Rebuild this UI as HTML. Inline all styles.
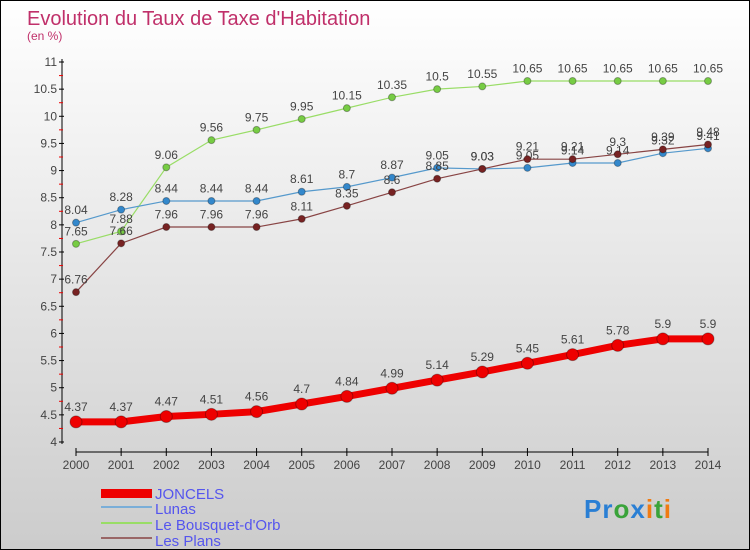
<!DOCTYPE html>
<html><head><meta charset="utf-8"><style>
body{margin:0}
#c{width:750px;height:550px;position:relative;box-sizing:border-box;border:1px solid #000;background:linear-gradient(#fff,#ccc);font-family:"Liberation Sans",sans-serif;overflow:hidden}
svg text{font-family:"Liberation Sans",sans-serif}
</style></head><body>
<div id="c">
<svg id="s" width="750" height="550">
<text x="26" y="24" font-size="20" fill="#c0306a">Evolution du Taux de Taxe d'Habitation</text>
<text x="26" y="39" font-size="12" fill="#c0306a">(en %)</text>
<g id="axes"></g><g id="series"></g>
<g>
<rect x="100" y="488" width="51" height="9" fill="#e00"/>
<text x="154" y="498" font-size="15" fill="#5555ee">JONCELS</text>
<rect x="100" y="505" width="51" height="2" fill="#7aaed8"/>
<text x="154" y="513" font-size="15" fill="#5555ee">Lunas</text>
<rect x="100" y="521" width="51" height="2" fill="#99dd66"/>
<text x="154" y="529" font-size="15" fill="#5555ee">Le Bousquet-d'Orb</text>
<rect x="100" y="536" width="51" height="2" fill="#996666"/>
<text x="154" y="545" font-size="15" fill="#5555ee">Les Plans</text>
</g>
<text x="583" y="517" font-size="26" font-weight="bold" letter-spacing="1"><tspan fill="#2a7fd4">Pr</tspan><tspan fill="#3aa33a">o</tspan><tspan fill="#2a7fd4">x</tspan><tspan fill="#f07b12">i</tspan><tspan fill="#3aa33a">t</tspan><tspan fill="#f07b12">i</tspan></text>
</svg></div>
<script>
const years=[2000,2001,2002,2003,2004,2005,2006,2007,2008,2009,2010,2011,2012,2013,2014];
const yTicks=[4,4.5,5,5.5,6,6.5,7,7.5,8,8.5,9,9.5,10,10.5,11];
const joncels=[4.37,4.37,4.47,4.51,4.56,4.7,4.84,4.99,5.14,5.29,5.45,5.61,5.78,5.9,5.9];
const lunas=[8.04,8.28,8.44,8.44,8.44,8.61,8.7,8.87,9.05,9.03,9.05,9.14,9.14,9.32,9.41];
const bousquet=[7.65,7.88,9.06,9.56,9.75,9.95,10.15,10.35,10.5,10.55,10.65,10.65,10.65,10.65,10.65];
const lesPlans=[6.76,7.66,7.96,7.96,7.96,8.11,8.35,8.6,8.85,9.03,9.21,9.21,9.3,9.39,9.48];
const NS="http://www.w3.org/2000/svg";
const X=i=>75+i*(707-75)/(years.length-1);
const Y=v=>441-(v-4)*(441-61)/7;
function mk(t,a,p){const e=document.createElementNS(NS,t);for(const k in a)e.setAttribute(k,a[k]);p.appendChild(e);return e;}
const ax=document.getElementById('axes');
let e=mk('line',{x1:61,y1:58,x2:61,y2:443,stroke:'#000'},ax);


e=mk('line',{x1:75,y1:451,x2:707,y2:451,stroke:'#000'},ax);


yTicks.forEach((v,i)=>{mk('line',{x1:58,x2:63,y1:Y(v),y2:Y(v),stroke:'#000'},ax);
if(i<yTicks.length-1)mk('line',{x1:58,x2:62,y1:Y(v+0.25),y2:Y(v+0.25),stroke:'#e00'},ax);
const t=mk('text',{x:56,y:Y(v)+4,'font-size':12,fill:'#444','text-anchor':'end'},ax);t.textContent=v;

});
years.forEach((y,i)=>{mk('line',{x1:X(i),x2:X(i),y1:447,y2:455,stroke:'#000'},ax);
const t=mk('text',{x:X(i),y:468,'font-size':12,fill:'#444','text-anchor':'middle'},ax);t.textContent=y;

});
const sg=document.getElementById('series');
function draw(vals,name,lc,pc,w,r){const g=mk('g',{},sg);


mk('polyline',{points:vals.map((v,i)=>X(i)+','+Y(v)).join(' '),fill:'none',stroke:lc,'stroke-width':w},g);
vals.forEach((v,i)=>{const c=mk('circle',{cx:X(i),cy:Y(v),r:r,fill:pc,stroke:'rgba(0,0,0,0.3)'},g);


const t=mk('text',{x:X(i),y:Y(v)-(r+5),'font-size':12,fill:'#444','text-anchor':'middle'},g);t.textContent=v;

});}
draw(bousquet,'bousquet','#99dd66','#77cc44',1.2,3.5);
draw(lunas,'lunas','#5599cc','#3388cc',1.2,3.5);
draw(lesPlans,'les-plans','#884444','#772222',1.2,3.5);
draw(joncels,'joncels','#ee0000','#ee0000',7,6);
</script>
</body></html>
